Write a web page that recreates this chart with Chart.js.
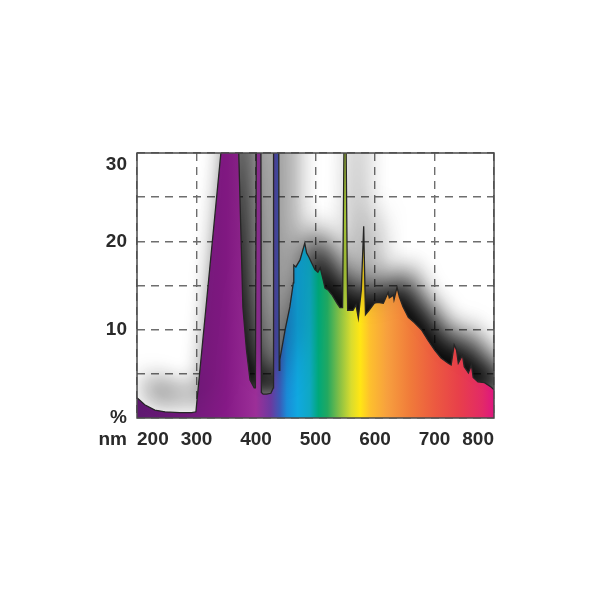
<!DOCTYPE html>
<html>
<head>
<meta charset="utf-8">
<script src="https://cdn.jsdelivr.net/npm/chart.js@4.4.1/dist/chart.umd.min.js"></script>
<style>
  html, body { margin: 0; padding: 0; background: #ffffff; }
  #wrap { width: 600px; height: 600px; position: relative; }
</style>
</head>
<body>
<div id="wrap"><canvas id="spectrum"></canvas></div>
<script>
// wavelength (nm) and relative intensity (%)
const wavelengths = [
  200, 213, 230, 247, 272, 292, 299, 341, 365, 371, 378, 384, 390, 397,
  399, 401, 408, 409, 412, 418, 425, 429, 429.5, 438, 439, 440,
  449, 457, 462.7, 463.5, 467, 474, 482, 485, 489, 494, 499, 504, 508,
  513, 516, 521, 528, 536, 541, 545.5, 549.6, 554, 563, 568, 572, 577,
  581, 584, 590, 599, 605, 614, 622, 624, 631, 632, 637, 641, 647,
  656, 666, 678, 689, 700, 711, 723, 728, 733, 737, 740, 747, 750,
  757, 762, 765, 773, 784, 795, 800
];
const intensity = [
  2.3, 1.5, 0.9, 0.7, 0.6, 0.6, 0.7, 30, 46, 30, 12.5, 7.7, 4.3, 3.4,
  3.4, 40, 40, 2.9, 2.7, 2.7, 2.8, 3.4, 40, 40, 5.4, 6.6,
  10, 12.6, 15.3, 17.3, 17.1, 17.9, 19.8, 18.7, 18.2, 17.5, 16.8, 16.5, 17.0,
  15.6, 14.7, 14.5, 13.9, 13.0, 12.5, 12.5, 44, 12.2, 12.2, 12.8, 11.3, 14.5,
  21.7, 11.7, 12.2, 13.0, 13.1, 13.0, 14.2, 13.6, 13.9, 13.4, 14.8, 13.7, 12.6,
  11.4, 10.8, 10.0, 8.8, 7.7, 6.8, 6.2, 6.0, 8.3, 7.7, 6.2, 7.1, 5.8,
  5.1, 6.0, 4.6, 4.1, 4.0, 3.5, 3.2
];

const xTicks = [200, 300, 400, 500, 600, 700, 800];
const yLabels = { 0: '%', 10: '10', 20: '20', 30: '30' };

// rainbow colour stops along the wavelength axis
const rainbowNm = [200, 300, 350, 400, 425, 440, 452, 470, 490, 505, 520, 540, 560, 575, 592, 620, 660, 700, 740, 780, 800];
const rainbowColors = [
  '#5e1870', '#761a7e', '#861a87', '#9c2f98', '#6b3aa0', '#3a5cb8', '#1a8cd8',
  '#10a8e0', '#0fa8c4', '#00a87a', '#22a860', '#84bf46', '#d9dc2e', '#ffe614',
  '#fdbf2e', '#f7a03e', '#f07a3a', '#ec5a40', '#e8404a', '#e32a66', '#de1680'
];

const FONT = "'Liberation Sans', Arial, sans-serif";

function rainbowFill(context) {
  const chart = context.chart;
  const area = chart.chartArea;
  if (!area) return '#8a1a88';
  const xs = chart.scales.x;
  const g = chart.ctx.createLinearGradient(area.left, 0, area.right, 0);
  rainbowNm.forEach((nm, i) => {
    const t = (xs.getPixelForValue(nm) - area.left) / (area.right - area.left);
    g.addColorStop(Math.min(1, Math.max(0, t)), rainbowColors[i]);
  });
  return g;
}

// grey blurred halo behind the spectrum
const shadowPlugin = {
  id: 'shadowPlugin',
  beforeDatasetsDraw(chart) {
    const ctx = chart.ctx;
    ctx.save();
    ctx.shadowColor = 'rgba(0,0,0,0.97)';
    ctx.shadowBlur = 26;
    ctx.shadowOffsetX = 12;
    ctx.shadowOffsetY = -20;
  },
  afterDatasetsDraw(chart) {
    chart.ctx.restore();
  }
};

// frame around plot + "nm" caption
const framePlugin = {
  id: 'framePlugin',
  afterDraw(chart) {
    const ctx = chart.ctx;
    const a = chart.chartArea;
    ctx.save();
    ctx.strokeStyle = '#4a4a4a';
    ctx.lineWidth = 1.5;
    ctx.strokeRect(a.left, a.top, a.right - a.left, a.bottom - a.top);
    ctx.fillStyle = '#2a2a2a';
    ctx.font = 'bold 19px ' + FONT;
    ctx.textAlign = 'right';
    ctx.textBaseline = 'middle';
    ctx.fillText('nm', a.left - 10, chart.scales.x.top + 22);
    ctx.restore();
  }
};

new Chart(document.getElementById('spectrum'), {
  type: 'line',
  data: {
    labels: wavelengths,
    datasets: [{
      data: wavelengths.map((w, i) => ({ x: w, y: intensity[i] })),
      fill: 'origin',
      backgroundColor: rainbowFill,
      borderColor: '#262626',
      borderWidth: 1.3,
      pointRadius: 0,
      tension: 0
    }]
  },
  options: {
    responsive: true,
    maintainAspectRatio: false,
    animation: false,
    layout: {
      padding: { top: 153, right: 106, bottom: 142, left: 0 }
    },
    plugins: {
      legend: { display: false },
      tooltip: { enabled: false }
    },
    scales: {
      x: {
        type: 'linear',
        min: 200,
        max: 800,
        afterBuildTicks: (scale) => {
          scale.ticks = xTicks.map(v => ({ value: v }));
        },
        afterFit: (scale) => { scale.height = 40; },
        grid: { color: '#6e6e6e', lineWidth: 1.4, drawTicks: false },
        border: { display: false, dash: [8, 6] },
        ticks: {
          align: 'inner',
          padding: 10,
          color: '#2a2a2a',
          font: { family: FONT, size: 19, weight: 'bold' },
          maxRotation: 0,
          autoSkip: false,
          callback: (v) => String(v)
        }
      },
      y: {
        min: 0,
        max: 30,
        afterFit: (scale) => { scale.width = 137; },
        grid: { color: '#6e6e6e', lineWidth: 1.4, drawTicks: false },
        border: { display: false, dash: [8, 6] },
        ticks: {
          stepSize: 5,
          padding: 10,
          color: '#2a2a2a',
          font: { family: FONT, size: 19, weight: 'bold' },
          autoSkip: false,
          callback: (v) => {
            const lab = yLabels[v];
            if (lab === undefined) return '';
            return v === 30 ? ['', lab] : lab;
          }
        }
      }
    }
  },
  plugins: [shadowPlugin, framePlugin]
});
</script>
</body>
</html>
